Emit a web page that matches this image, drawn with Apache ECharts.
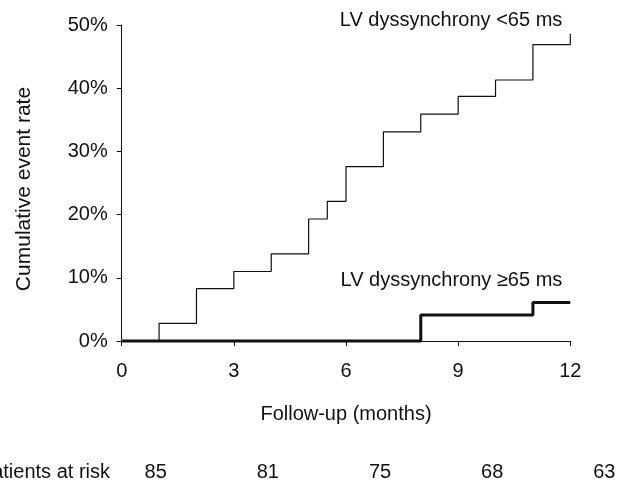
<!DOCTYPE html>
<html>
<head>
<meta charset="utf-8">
<script src="https://cdn.jsdelivr.net/npm/echarts@6/dist/echarts.min.js"></script>
<style>
html,body{margin:0;padding:0;background:#fff;}
#chart{width:625px;height:480px;}
</style>
</head>
<body>
<div id="chart"></div>
<script>
// Data
var xTicks = [0, 3, 6, 9, 12];
var yTicks = [0, 10, 20, 30, 40, 50];
var lowMonths = [0, 1, 2, 3, 4, 5, 5.5, 6, 7, 8, 9, 10, 11, 12];
var lowRates = [0, 2.8, 8.3, 11.0, 13.8, 19.3, 22.1, 27.6, 33.1, 35.9, 38.7, 41.3, 46.9, 48.6];
var highMonths = [0, 8, 11, 12];
var highRates = [0, 4.1, 6.1, 6.1];
var lowLabel = 'LV dyssynchrony <65 ms';
var highLabel = 'LV dyssynchrony \u226565 ms';
var riskMonths = [0, 3, 6, 9, 12];
var riskCounts = [85, 81, 75, 68, 63];
var riskTitle = 'Patients at risk';

function stepPoints(ts, vs) {
  var pts = [[ts[0], vs[0]]];
  for (var i = 1; i < ts.length; i++) {
    pts.push([ts[i], vs[i - 1]]);
    if (vs[i] !== vs[i - 1]) pts.push([ts[i], vs[i]]);
  }
  return pts;
}

var FONT = '"Liberation Sans", Arial, Helvetica, sans-serif';
var FS = 20;
var chart = echarts.init(document.getElementById('chart'), null, {renderer: 'canvas'});
var option = {
  animation: false,
  backgroundColor: '#fff',
  textStyle: {fontFamily: FONT, color: '#111'},
  grid: {left: 121.7, right: 54.7, top: 25, bottom: 139, containLabel: false},
  xAxis: {
    type: 'value', min: 0, max: 12, interval: 3,
    name: 'Follow-up (months)', nameLocation: 'middle', nameGap: 63,
    nameTextStyle: {fontSize: FS, color: '#111', fontFamily: FONT},
    axisLine: {lineStyle: {color: '#111', width: 1}},
    axisTick: {length: 5, lineStyle: {color: '#111'}},
    axisLabel: {fontSize: FS, color: '#111', margin: 20, fontFamily: FONT},
    splitLine: {show: false}
  },
  yAxis: {
    type: 'value', min: 0, max: 50, interval: 10,
    name: 'Cumulative event rate', nameLocation: 'middle', nameGap: 87,
    nameTextStyle: {fontSize: 21, color: '#111', fontFamily: FONT, padding: [0, 12, 0, 0]},
    axisLine: {show: true, lineStyle: {color: '#111', width: 1}},
    axisTick: {show: true, length: 5, lineStyle: {color: '#111'}},
    axisLabel: {fontSize: FS, color: '#111', margin: 14, formatter: '{value}%', fontFamily: FONT},
    splitLine: {show: false}
  },
  series: [
    {
      type: 'line', name: lowLabel, data: stepPoints(lowMonths, lowRates),
      showSymbol: false, clip: false,
      lineStyle: {color: '#111', width: 1.2}
    },
    {
      type: 'line', name: highLabel, data: stepPoints(highMonths, highRates),
      showSymbol: false, clip: false,
      lineStyle: {color: '#111', width: 3}
    }
  ]
};
chart.setOption(option);

function px(x, y) { return chart.convertToPixel({gridIndex: 0}, [x, y]); }
var g = [];
var pTop = px(12, 50);
g.push({type: 'text', right: 625 - pTop[0] + 8, top: pTop[1] - 15,
  style: {text: lowLabel, font: FS + 'px ' + FONT, fill: '#111'}});
var pLow = px(12, 9.8);
g.push({type: 'text', right: 625 - pLow[0] + 8, top: pLow[1] - 9,
  style: {text: highLabel, font: FS + 'px ' + FONT, fill: '#111'}});
var yRow = 462;
g.push({type: 'text', x: 110, y: yRow,
  style: {text: riskTitle, font: FS + 'px ' + FONT, fill: '#111', textAlign: 'right'}});
for (var i = 0; i < riskMonths.length; i++) {
  var p = px(riskMonths[i], 0);
  g.push({type: 'text', x: p[0] + 34, y: yRow,
    style: {text: String(riskCounts[i]), font: FS + 'px ' + FONT, fill: '#111', textAlign: 'center'}});
}
chart.setOption({graphic: g});
</script>
</body>
</html>
